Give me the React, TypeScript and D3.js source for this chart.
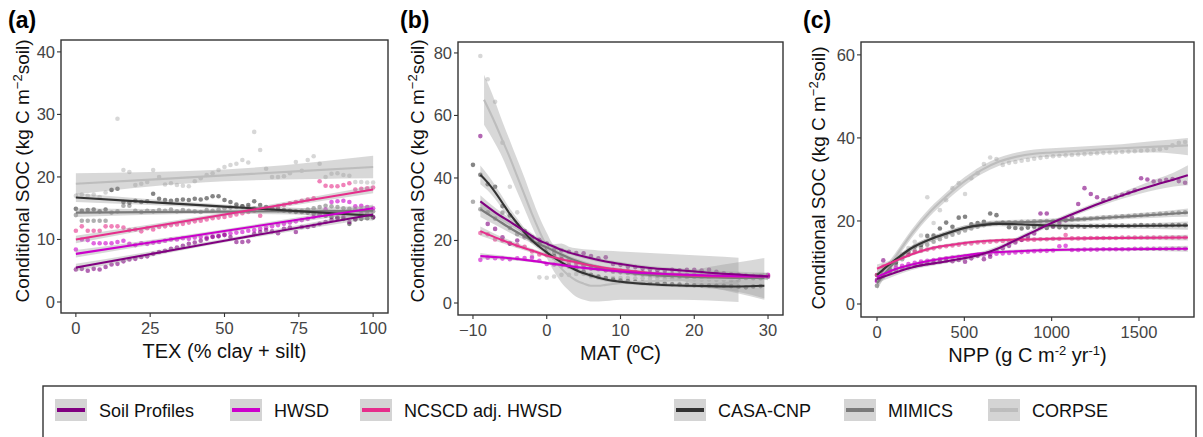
import React from "react";
import * as d3 from "d3";

// ---------- series ----------
const SERIES_NAMES = ["Soil Profiles", "HWSD", "NCSCD adj. HWSD", "CASA-CNP", "MIMICS", "CORPSE"];
const SERIES_COLORS = ["#800080", "#cc00cc", "#e62e8b", "#333333", "#7a7a7a", "#bdbdbd"];

// ---------- panel (a): TEX ----------
const texX = [0, 2, 4, 6, 8, 10, 12, 14, 16, 18, 20, 22, 24, 26, 28, 30, 32, 34, 36, 38, 40, 42, 44, 46, 48, 50, 52, 54, 56, 58, 60, 62, 64, 66, 68, 70, 72, 74, 76, 78, 80, 82, 84, 86, 88, 90, 92, 94, 96, 98, 100];
const texSoil = [5.2, 5.3, 5.0, 5.3, 5.2, 5.6, 6.0, 6.1, 6.5, 6.8, 6.9, 7.2, 7.3, 7.7, 8.0, 8.2, 8.5, 8.7, 9.0, 9.3, 9.5, 9.8, 10.1, 10.4, 10.5, 10.7, 10.4, 9.6, 9.6, 9.7, 10.9, 11.2, 11.5, 11.3, 11.0, 11.7, 11.9, 11.2, 12.0, 12.0, 12.2, 12.5, 12.8, 13.1, 13.4, 13.6, 12.8, 13.3, 14.1, 14.1, 13.6];
const texHwsd = [8.4, 10.0, 9.9, 9.4, 9.4, 9.4, 9.4, 9.6, 9.8, 9.3, 9.1, 9.4, 9.3, 9.5, 9.6, 9.8, 10.0, 10.0, 10.2, 10.1, 10.3, 10.4, 10.3, 10.5, 10.6, 10.8, 11.0, 11.1, 11.2, 11.4, 11.5, 11.7, 11.9, 12.1, 12.3, 12.5, 12.7, 12.9, 13.1, 13.3, 13.6, 14.0, 14.8, 16.0, 16.1, 16.2, 16.0, 15.3, 15.4, 15.2, 15.0];
const texNcscd = [11.4, 12.1, 11.4, 11.4, 11.4, 12.1, 12.1, 12.1, 11.9, 11.5, 11.6, 11.3, 11.8, 11.6, 12.0, 12.1, 12.3, 12.4, 12.5, 12.7, 12.9, 13.0, 13.2, 13.4, 13.5, 13.6, 13.8, 14.0, 14.2, 14.4, 14.6, 13.8, 14.8, 15.0, 15.3, 15.5, 15.8, 16.0, 16.2, 16.4, 16.6, 19.3, 18.6, 18.5, 18.5, 18.7, 19.0, 18.0, 18.1, 18.2, 18.3];
const texCasa = [14.9, 14.6, 14.7, 14.8, 14.5, 14.8, 17.9, 18.1, 16.0, 15.9, 16.2, 16.0, 16.1, 17.3, 16.5, 16.3, 16.2, 16.3, 16.4, 16.3, 16.5, 16.4, 16.6, 16.9, 16.9, 16.3, 16.0, 15.6, 15.3, 15.5, 16.1, 15.5, 15.2, 15.0, 14.9, 14.7, 14.6, 14.5, 14.4, 14.3, 14.1, 13.9, 13.8, 13.6, 13.5, 13.3, 12.5, 13.2, 13.3, 13.4, 13.5];
const texMimics = [13.9, 13.0, 13.0, 13.0, 13.0, 13.0, 14.3, 14.5, 15.4, 15.4, 14.6, 14.4, 14.6, 14.5, 14.7, 14.6, 14.8, 14.5, 14.7, 14.6, 14.5, 14.4, 14.7, 14.6, 14.8, 15.0, 15.1, 15.2, 15.3, 15.1, 15.0, 14.8, 15.0, 14.9, 14.7, 14.6, 14.5, 14.4, 14.6, 14.8, 15.0, 15.2, 15.4, 15.3, 15.2, 15.0, 14.9, 14.8, 14.7, 14.6, 14.5];
const texCorpse = [17.0, 17.2, 17.0, 17.2, 16.8, 17.5, 18.0, 29.3, 21.1, 20.8, 18.7, 18.9, 19.2, 21.1, 20.0, 18.8, 19.0, 18.7, 18.6, 18.5, 19.3, 19.8, 20.3, 20.6, 21.1, 21.6, 21.9, 22.1, 22.7, 22.3, 27.2, 24.3, 21.3, 20.0, 20.0, 20.1, 20.6, 22.4, 21.0, 22.7, 23.3, 22.1, 20.0, 20.5, 20.6, 20.3, 20.2, 19.2, 19.2, 19.1, 19.1];
// fits: [x, fit, lower, upper]
const texFitSoil = [[0, 5.5, 4.9, 6.1], [50, 9.8, 9.5, 10.1], [100, 14.0, 13.4, 14.6]];
const texFitHwsd = [[0, 7.7, 7.1, 8.3], [50, 11.35, 11.05, 11.65], [100, 15.0, 14.4, 15.6]];
const texFitNcscd = [[0, 10.0, 9.4, 10.6], [50, 14.0, 13.7, 14.3], [100, 18.0, 17.4, 18.6]];
const texFitCasa = [[0, 16.7, 16.0, 17.4], [50, 15.25, 14.9, 15.6], [100, 13.8, 13.0, 14.6]];
const texFitMimics = [[0, 14.3, 13.6, 15.0], [50, 14.45, 14.1, 14.8], [100, 14.6, 13.8, 15.4]];
const texFitCorpse = [[0, 18.9, 17.2, 20.6], [50, 20.25, 19.3, 21.2], [100, 21.6, 19.8, 23.4]];
const texTicksX = [0, 25, 50, 75, 100];
const texTicksY = [0, 10, 20, 30, 40];

// ---------- panel (b): MAT ----------
const matX = [-10, -9, -8, -7, -6, -5, -4, -3, -2, -1, 0, 1, 2, 3, 4, 5, 6, 7, 8, 9, 10, 11, 12, 13, 14, 15, 16, 17, 18, 19, 20, 21, 22, 23, 24, 25, 26, 27, 28, 29, 30];
const matSoil = [null, 53.4, 25.3, 23.7, 21.0, 19.0, 20.0, 21.5, 20.5, 20.2, 19.0, 17.0, 16.8, 16.4, 16.0, 15.9, 15.0, 14.3, 14.6, 12.5, 12.2, 11.6, 11.5, 11.0, 10.8, 10.5, 10.3, 10.6, 10.5, 10.6, 10.6, 10.4, 10.6, 10.0, 9.5, 9.2, 9.0, 8.8, 8.6, 8.5, 8.4];
const matHwsd = [null, 13.8, 14.5, 14.3, 14.2, 14.0, 14.3, 14.4, 14.5, 13.5, 12.5, 12.3, 12.0, 11.7, 11.5, 11.2, 11.0, 10.8, 10.5, 10.3, 10.1, 9.9, 9.8, 9.6, 9.5, 9.4, 9.3, 9.2, 9.1, 9.0, 9.0, 8.9, 8.8, 8.8, 8.7, 8.6, 8.6, 8.5, 8.5, 8.5, 9.0];
const matNcscd = [null, 22.4, 22.0, 20.3, 20.0, 19.0, 18.5, 18.0, 16.5, 15.5, 15.3, 14.5, 14.0, 13.0, 12.5, 12.0, 11.6, 11.2, 10.9, 10.6, 10.4, 10.2, 10.0, 9.8, 9.6, 9.4, 9.3, 9.1, 9.0, 8.9, 8.8, 8.7, 8.6, 8.6, 8.5, 8.5, 8.5, 8.5, 8.6, 8.6, 8.8];
const matCasa = [44.2, 41.0, 38.0, 37.2, 31.0, 28.0, 25.0, 23.0, 21.0, 19.0, 17.0, 15.0, 14.0, 12.0, 11.0, 10.0, 9.0, 8.5, 8.0, 7.5, 7.2, 7.0, 6.8, 6.6, 6.4, 6.3, 6.2, 6.0, 5.9, 5.8, 5.7, 5.6, 5.6, 5.5, 5.5, 5.4, 5.2, 5.0, 5.3, 5.4, null];
const matMimics = [32.4, 30.0, 29.0, 27.0, 28.9, 24.0, 22.0, 21.0, 20.0, 19.0, 18.0, 16.0, 15.0, 14.0, 13.0, 12.0, 11.5, 11.0, 10.5, 10.0, 9.8, 9.6, 9.4, 9.2, 9.0, 8.9, 8.8, 8.7, 8.6, 8.5, 8.4, 8.3, 8.2, 8.2, 8.1, 8.0, 8.0, 8.0, 7.9, 7.9, null];
const matCorpse = [null, 79.0, 71.6, 64.4, 51.3, 37.2, 29.0, 22.5, 15.0, 8.2, 8.1, 8.5, 9.0, 9.0, 9.3, 9.3, 8.5, 8.2, 8.0, 8.0, 8.0, 8.0, 7.9, 7.9, 7.8, 7.8, 7.7, 7.7, 7.6, 7.6, 7.6, 7.5, 7.5, 7.4, 7.4, 7.3, 7.3, null, null, null, null];
const matFitSoil = [[-9, 32.5, 30.5, 34.5], [-7, 29, 27.5, 30.5], [-5, 26, 24.8, 27.2], [-3, 23, 22, 24], [-1, 20, 19.2, 20.8], [0, 19, 18.3, 19.7], [2, 17, 16.4, 17.6], [4, 15.5, 14.9, 16.1], [6, 14.3, 13.7, 14.9], [8, 13.3, 12.7, 13.9], [10, 12.5, 11.9, 13.1], [14, 11.2, 10.6, 11.8], [18, 10.5, 9.9, 11.1], [22, 9.7, 9, 10.4], [26, 9.1, 8.2, 10], [30, 8.5, 7.3, 9.7]];
const matFitHwsd = [[-9, 15, 14, 16], [-7, 14.7, 14, 15.4], [-5, 14.3, 13.7, 14.9], [-3, 13.8, 13.3, 14.3], [-1, 13.2, 12.7, 13.7], [0, 12.8, 12.3, 13.3], [2, 12.2, 11.7, 12.7], [4, 11.5, 11, 12], [6, 11, 10.5, 11.5], [8, 10.5, 10, 11], [10, 10.1, 9.6, 10.6], [14, 9.5, 9, 10], [18, 9.1, 8.6, 9.6], [22, 8.8, 8.2, 9.4], [26, 8.6, 7.9, 9.3], [30, 8.5, 7.5, 9.5]];
const matFitNcscd = [[-9, 23, 21.5, 24.5], [-7, 21, 19.9, 22.1], [-5, 19.2, 18.3, 20.1], [-3, 17.5, 16.8, 18.2], [-1, 16, 15.4, 16.6], [0, 15.2, 14.6, 15.8], [2, 14, 13.5, 14.5], [4, 13, 12.5, 13.5], [6, 12, 11.5, 12.5], [8, 11.2, 10.7, 11.7], [10, 10.6, 10.1, 11.1], [14, 9.6, 9.1, 10.1], [18, 9, 8.5, 9.5], [22, 8.6, 8, 9.2], [26, 8.5, 7.8, 9.2], [30, 8.6, 7.6, 9.6]];
const matFitCasa = [[-9, 41, 38, 44], [-8, 38.5, 36, 41], [-7, 35.5, 33.3, 37.7], [-6, 32, 30, 34], [-5, 28.5, 26.8, 30.2], [-4, 25.5, 24, 27], [-3, 22.5, 21.2, 23.8], [-2, 20, 18.9, 21.1], [-1, 18, 17, 19], [0, 16.2, 15.3, 17.1], [2, 13, 12.2, 13.8], [4, 10.5, 9.8, 11.2], [6, 8.8, 8.1, 9.5], [8, 7.5, 6.9, 8.1], [10, 6.8, 6.2, 7.4], [14, 6, 5.4, 6.6], [18, 5.6, 5, 6.2], [22, 5.4, 4.6, 6.2], [26, 5.3, 3.5, 7.5], [29.5, 5.5, 1.5, 9.5]];
const matFitMimics = [[-9, 30, 27.5, 32.5], [-7, 27, 25, 29], [-5, 24, 22.5, 25.5], [-3, 21.3, 20.2, 22.4], [-1, 18.8, 17.9, 19.7], [0, 17.8, 17, 18.6], [2, 15.5, 14.8, 16.2], [4, 13.5, 12.8, 14.2], [6, 12, 11.3, 12.7], [8, 10.8, 10.1, 11.5], [10, 10, 9.3, 10.7], [14, 9, 8.2, 9.8], [18, 8.5, 7.2, 9.8], [22, 8.2, 5, 11.5], [26, 8, 3, 13], [29.5, 8, 1, 14.4]];
const matFitCorpse = [[-8.5, 65, 57, 73], [-7, 57.5, 51, 64.5], [-6, 52, 46.5, 58], [-5, 46.5, 41, 52], [-4, 40.5, 35.5, 46], [-3, 34.5, 30, 40], [-2, 28.5, 24.5, 33.5], [-1, 23, 19.5, 27.5], [0, 18, 14.5, 22.5], [1, 14, 10, 18.8], [2, 11, 6.5, 19], [3, 8.8, 4, 18], [4, 7.2, 2, 17.5], [5, 6.2, 1, 17.2], [6, 5.5, 0.5, 17], [7, 5.5, 0.5, 16.8], [8, 5.8, 0.6, 16.7], [10, 6.3, 1, 16.5], [14, 7, 1, 16], [18, 7.3, 1, 15.5], [22, 7.6, 0.8, 15], [26, 7.8, 0.3, 14.5]];
const matTicksX = [-10, 0, 10, 20, 30];
const matTicksY = [0, 20, 40, 60, 80];

// ---------- panel (c): NPP ----------
const nppX = [0, 36, 72, 108, 144, 180, 216, 252, 288, 324, 360, 396, 432, 468, 504, 540, 576, 612, 648, 684, 720, 756, 792, 828, 864, 900, 936, 972, 1008, 1044, 1080, 1116, 1152, 1188, 1224, 1260, 1296, 1332, 1368, 1404, 1440, 1476, 1512, 1548, 1584, 1620, 1656, 1692, 1728, 1764];
const nppSoil = [5.8, 10.5, 7.5, 8.2, 8.6, 8.9, 9.2, 9.5, 9.8, 10.0, 10.2, 10.4, 10.3, 10.6, 10.2, 11.0, 11.6, 10.8, 11.4, 12.8, 13.4, 14.0, 14.8, 15.5, 16.2, 17.0, 21.8, 21.8, 18.8, 19.5, 20.2, 20.8, 24.1, 27.9, 26.5, 25.7, 25.0, 25.4, 25.8, 26.3, 26.8, 27.4, 30.3, 30.0, 29.5, 29.7, 29.9, 30.1, 29.6, 29.2];
const nppHwsd = [5.5, 7.5, 8.0, 8.8, 9.2, 9.6, 9.9, 10.2, 10.4, 10.6, 10.8, 11.0, 11.2, 11.3, 11.5, 11.6, 11.8, 11.9, 12.0, 12.1, 12.2, 12.3, 12.4, 12.5, 12.6, 12.7, 12.8, 12.8, 12.9, 13.9, 14.0, 13.0, 13.0, 13.1, 13.1, 13.1, 13.2, 13.2, 13.2, 13.2, 13.2, 13.3, 13.3, 13.3, 13.3, 13.3, 13.3, 13.3, 13.3, 13.3];
const nppNcscd = [7.0, 9.0, 9.5, 10.6, 11.3, 12.0, 12.5, 12.8, 13.1, 13.4, 13.7, 13.9, 14.1, 14.3, 14.5, 14.6, 14.8, 14.9, 15.0, 15.1, 15.2, 15.2, 15.3, 15.4, 15.5, 15.5, 15.6, 15.6, 15.7, 15.7, 16.6, 15.8, 15.8, 15.8, 15.9, 15.9, 15.9, 15.9, 15.9, 16.0, 16.0, 16.0, 16.0, 16.0, 16.0, 16.0, 16.0, 16.0, 16.0, 16.0];
const nppCasa = [7.0, 7.5, 8.5, 10.0, 11.5, 12.5, 13.8, 14.2, 16.4, 16.5, 18.2, 19.6, 18.6, 20.8, 21.0, 19.2, 19.5, 19.8, 21.8, 21.4, 19.5, 18.5, 18.3, 18.2, 18.4, 18.6, 18.5, 18.3, 18.6, 18.5, 18.4, 18.6, 18.7, 18.6, 18.8, 18.7, 18.8, 18.9, 18.8, 18.9, 18.8, 18.9, 19.0, 18.9, 19.0, 19.0, 18.9, 19.0, 19.0, 19.0];
const nppMimics = [4.4, 7.0, 8.0, 9.5, 10.8, 11.8, 12.8, 13.6, 14.3, 15.0, 15.6, 16.2, 16.7, 17.2, 17.7, 18.2, 18.6, 19.0, 19.3, 19.5, 19.6, 19.7, 19.7, 19.8, 19.8, 19.9, 19.9, 20.0, 20.0, 20.1, 20.2, 20.3, 20.4, 20.5, 20.6, 20.7, 20.8, 20.9, 21.0, 21.1, 21.2, 21.3, 21.4, 21.5, 21.6, 21.7, 21.8, 21.9, 22.0, 22.1];
const nppCorpse = [4.4, 6.5, 8.0, 10.0, 12.0, 13.5, 15.0, 16.5, 25.7, 19.5, 22.6, 25.0, 27.9, 29.1, 26.5, 30.3, 31.5, 33.7, 35.3, 34.9, 33.5, 34.0, 34.2, 34.5, 34.7, 35.0, 35.2, 35.4, 35.6, 35.7, 35.8, 35.9, 36.0, 36.1, 36.2, 36.3, 36.4, 36.5, 36.5, 36.6, 36.7, 36.8, 36.9, 37.0, 37.1, 37.3, 37.6, 38.2, 38.8, 39.0];
const nppFitSoil = [[0, 6, 5, 7], [200, 8.8, 8.2, 9.4], [400, 10.3, 9.8, 10.8], [600, 12, 11.4, 12.6], [700, 13.5, 12.9, 14.1], [800, 15.5, 14.9, 16.1], [900, 17.5, 16.9, 18.1], [1000, 19.5, 18.9, 20.1], [1100, 21.3, 20.7, 21.9], [1200, 23, 22.4, 23.6], [1300, 24.6, 23.9, 25.3], [1400, 26.1, 25.3, 26.9], [1500, 27.5, 26.5, 28.5], [1600, 28.8, 27.5, 30.1], [1700, 30, 28.3, 31.7], [1780, 31, 28.6, 33.4]];
const nppFitHwsd = [[0, 6.5, 5.5, 7.5], [100, 8.3, 7.8, 8.8], [200, 9.5, 9.1, 9.9], [300, 10.4, 10, 10.8], [400, 11.1, 10.7, 11.5], [500, 11.7, 11.3, 12.1], [600, 12.2, 11.8, 12.6], [800, 12.7, 12.3, 13.1], [1000, 13, 12.6, 13.4], [1400, 13.2, 12.8, 13.6], [1780, 13.3, 12.6, 14]];
const nppFitNcscd = [[0, 8.5, 7.5, 9.5], [100, 10.3, 9.8, 10.8], [200, 12, 11.6, 12.4], [300, 13.3, 12.9, 13.7], [400, 14.1, 13.7, 14.5], [500, 14.7, 14.3, 15.1], [600, 15.1, 14.7, 15.5], [800, 15.5, 15.1, 15.9], [1000, 15.7, 15.3, 16.1], [1400, 15.9, 15.5, 16.3], [1780, 16, 15.3, 16.7]];
const nppFitCasa = [[0, 7, 6, 8], [100, 10.5, 9.8, 11.2], [200, 13.5, 12.9, 14.1], [300, 15.5, 14.9, 16.1], [400, 17, 16.4, 17.6], [500, 18.3, 17.7, 18.9], [600, 19, 18.4, 19.6], [700, 19.3, 18.7, 19.9], [800, 19.2, 18.6, 19.8], [1000, 18.9, 18.3, 19.5], [1200, 18.8, 18.2, 19.4], [1400, 18.8, 18.2, 19.4], [1780, 18.9, 17.9, 19.9]];
const nppFitMimics = [[0, 5, 4, 6], [100, 10, 9.3, 10.7], [200, 13.5, 12.9, 14.1], [300, 15.5, 14.9, 16.1], [400, 17, 16.4, 17.6], [500, 18.3, 17.7, 18.9], [600, 19.2, 18.6, 19.8], [700, 19.6, 19, 20.2], [800, 19.7, 19.1, 20.3], [1000, 20, 19.4, 20.6], [1200, 20.5, 19.9, 21.1], [1400, 21, 20.4, 21.6], [1600, 21.5, 20.8, 22.2], [1780, 22, 21, 23]];
const nppFitCorpse = [[0, 5, 3.5, 6.5], [100, 11, 10, 12], [200, 17, 16, 18], [300, 22, 21, 23], [400, 26, 25, 27], [500, 29.5, 28.5, 30.5], [600, 32.3, 31.3, 33.3], [700, 34.3, 33.3, 35.3], [800, 35.5, 34.5, 36.5], [900, 36.2, 35.2, 37.2], [1000, 36.5, 35.5, 37.5], [1200, 37, 36, 38], [1400, 37.5, 36.5, 38.5], [1600, 37.9, 36.5, 39.3], [1780, 38.2, 35.8, 40]];
const nppTicksX = [0, 500, 1000, 1500];
const nppTicksY = [0, 20, 40, 60];

// ---------- layout ----------
const FONT = "'Liberation Sans', Arial, Helvetica, sans-serif";
type Fit = number[][];

interface PanelSpec {
  label: string;
  labelX: number;
  box: { l: number; r: number; t: number; b: number };
  xDomain: [number, number];
  yDomain: [number, number];
  xTicks: number[];
  yTicks: number[];
  xs: number[];
  ys: (number | null)[][];
  fits: Fit[];
  xTitle: React.ReactNode;
  yTitleX: number;
  yTitleY: number;
}

const panels: PanelSpec[] = [
  {
    label: "(a)", labelX: 8,
    box: { l: 61, r: 388, t: 40, b: 313 },
    xDomain: [-5, 105], yDomain: [-1.76, 41.9],
    xTicks: texTicksX, yTicks: texTicksY,
    xs: texX,
    ys: [texSoil, texHwsd, texNcscd, texCasa, texMimics, texCorpse],
    fits: [texFitSoil, texFitHwsd, texFitNcscd, texFitCasa, texFitMimics, texFitCorpse],
    xTitle: "TEX (% clay + silt)",
    yTitleX: 29, yTitleY: 171,
  },
  {
    label: "(b)", labelX: 400,
    box: { l: 458, r: 783, t: 42, b: 315 },
    xDomain: [-12.03, 32.03], yDomain: [-3.84, 83.5],
    xTicks: matTicksX, yTicks: matTicksY,
    xs: matX,
    ys: [matSoil, matHwsd, matNcscd, matCasa, matMimics, matCorpse],
    fits: [matFitSoil, matFitHwsd, matFitNcscd, matFitCasa, matFitMimics, matFitCorpse],
    xTitle: "MAT (ºC)",
    yTitleX: 424, yTitleY: 171,
  },
  {
    label: "(c)", labelX: 803,
    box: { l: 861, r: 1194, t: 42, b: 317 },
    xDomain: [-91.6, 1815], yDomain: [-3.13, 63.1],
    xTicks: nppTicksX, yTicks: nppTicksY,
    xs: nppX,
    ys: [nppSoil, nppHwsd, nppNcscd, nppCasa, nppMimics, nppCorpse],
    fits: [nppFitSoil, nppFitHwsd, nppFitNcscd, nppFitCasa, nppFitMimics, nppFitCorpse],
    xTitle: (
      <>
        NPP (g C m<tspan dy={-7} fontSize={13}>-2</tspan>
        <tspan dy={7}> yr</tspan>
        <tspan dy={-7} fontSize={13}>-1</tspan>
        <tspan dy={7}>)</tspan>
      </>
    ),
    yTitleX: 825, yTitleY: 178,
  },
];

const fmt = d3.format("");

function Panel({ spec }: { spec: PanelSpec }) {
  const { box } = spec;
  const x = d3.scaleLinear().domain(spec.xDomain).range([box.l, box.r]);
  const y = d3.scaleLinear().domain(spec.yDomain).range([box.b, box.t]);
  const line = d3.line<number[]>().x((d) => x(d[0])).y((d) => y(d[1])).curve(d3.curveMonotoneX);
  const area = d3.area<number[]>().x((d) => x(d[0])).y0((d) => y(d[2])).y1((d) => y(d[3])).curve(d3.curveMonotoneX);
  const order = [5, 4, 3, 2, 1, 0];
  const cx = (box.l + box.r) / 2;
  return (
    <g>
      <text x={spec.labelX} y={28} fontSize={23} fontWeight="bold" fontFamily={FONT} fill="#000">{spec.label}</text>
      <rect x={box.l} y={box.t} width={box.r - box.l} height={box.b - box.t} fill="#fff" />
      {/* points */}
      {order.map((si) => (
        <g key={"p" + si}>
          {spec.ys[si].map((v, i) =>
            v == null ? null : (
              <circle key={i} cx={x(spec.xs[i])} cy={y(v)} r={2.3} fill={SERIES_COLORS[si]} fillOpacity={0.6} />
            )
          )}
        </g>
      ))}
      {/* ribbons */}
      {order.map((si) => (
        <path key={"r" + si} d={area(spec.fits[si]) || ""} fill="#999999" fillOpacity={0.38} stroke="none" />
      ))}
      {/* lines */}
      {order.map((si) => (
        <path key={"l" + si} d={line(spec.fits[si]) || ""} fill="none" stroke={SERIES_COLORS[si]} strokeWidth={2.1} />
      ))}
      <rect x={box.l} y={box.t} width={box.r - box.l} height={box.b - box.t} fill="none" stroke="#333" strokeWidth={1.4} />
      {/* x ticks */}
      {spec.xTicks.map((t) => (
        <g key={"xt" + t}>
          <line x1={x(t)} x2={x(t)} y1={box.b} y2={box.b + 4} stroke="#333" strokeWidth={1.1} />
          <text x={x(t)} y={box.b + 21} textAnchor="middle" fontSize={16.5} fontFamily={FONT} fill="#444">{fmt(t)}</text>
        </g>
      ))}
      {/* y ticks */}
      {spec.yTicks.map((t) => (
        <g key={"yt" + t}>
          <line x1={box.l - 4} x2={box.l} y1={y(t)} y2={y(t)} stroke="#333" strokeWidth={1.1} />
          <text x={box.l - 6} y={y(t)} dy="0.36em" textAnchor="end" fontSize={16.5} fontFamily={FONT} fill="#444">{fmt(t)}</text>
        </g>
      ))}
      <text x={cx} y={box.b + 45} textAnchor="middle" fontSize={20} fontFamily={FONT} fill="#111">{spec.xTitle}</text>
      <text transform={`translate(${spec.yTitleX},${spec.yTitleY}) rotate(-90)`} textAnchor="middle" fontSize={19} fontFamily={FONT} fill="#111">
        Conditional SOC (kg C m<tspan dy={-7} fontSize={13}>−2</tspan>
        <tspan dy={7}>soil)</tspan>
      </text>
    </g>
  );
}

const LEGEND_KEY_X = [55, 230, 360, 674, 844, 988];

function Legend() {
  return (
    <g>
      <rect x={43} y={386} width={1153} height={90} fill="#fff" stroke="#333" strokeWidth={1.4} />
      {SERIES_NAMES.map((name, i) => {
        const kx = LEGEND_KEY_X[i];
        return (
          <g key={name}>
            <rect x={kx} y={399} width={32} height={22} fill="#d4d4d4" />
            <line x1={kx + 2} x2={kx + 30} y1={410} y2={410} stroke={SERIES_COLORS[i]} strokeWidth={4} />
            <circle cx={kx + 16} cy={410} r={2} fill={SERIES_COLORS[i]} fillOpacity={0.6} />
            <text x={kx + 44} y={417} fontSize={18} fontFamily={FONT} fill="#111">{name}</text>
          </g>
        );
      })}
    </g>
  );
}

export default function App() {
  return (
    <svg width={1203} height={437} style={{ position: "absolute", left: 0, top: 0, display: "block", background: "#fff" }}>
      <rect x={0} y={0} width={1203} height={437} fill="#fff" />
      {panels.map((p) => (
        <Panel key={p.label} spec={p} />
      ))}
      <Legend />
    </svg>
  );
}
